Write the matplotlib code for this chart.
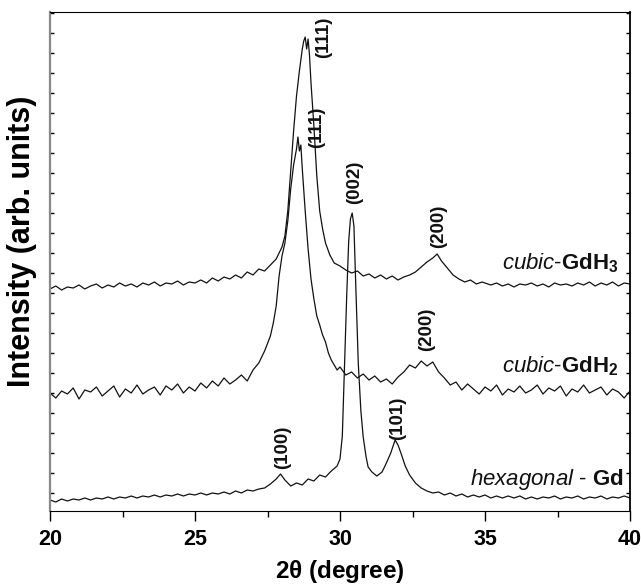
import matplotlib
matplotlib.use("Agg")
import matplotlib.pyplot as plt
import numpy as np

plt.rcParams['font.family'] = ['Liberation Sans', 'DejaVu Sans']
plt.rcParams['mathtext.fontset'] = 'custom'
plt.rcParams['mathtext.rm'] = 'Liberation Sans'
plt.rcParams['mathtext.it'] = 'Liberation Sans:italic'
plt.rcParams['mathtext.bf'] = 'Liberation Sans:bold'

# ---------------- data (2theta in degrees, intensity in arb. units) ----------------
gdh3_x = [20.0, 20.2, 20.4, 20.6, 20.8, 21.0, 21.2, 21.4, 21.6, 21.8, 22.0, 22.2, 22.4, 22.6, 22.8,
          23.0, 23.2, 23.4, 23.6, 23.8, 24.0, 24.2, 24.4, 24.6, 24.8, 25.0, 25.2, 25.4, 25.6, 25.8,
          26.0, 26.2, 26.4, 26.6, 26.8, 27.0, 27.2, 27.4, 27.6, 27.8, 28.0, 28.1, 28.2, 28.3, 28.4,
          28.5, 28.6, 28.7, 28.75, 28.8, 28.85, 28.9, 28.95, 29.0, 29.1, 29.2, 29.3, 29.4, 29.5,
          29.65, 29.8, 30.0, 30.2, 30.4, 30.6, 30.8, 31.0, 31.2, 31.4, 31.6, 31.8, 32.0, 32.2, 32.4,
          32.6, 32.8, 33.0, 33.2, 33.35, 33.5, 33.7, 33.9, 34.1, 34.3, 34.5, 34.7, 34.9, 35.2, 35.4,
          35.6, 35.8, 36.0, 36.2, 36.4, 36.6, 36.8, 37.0, 37.2, 37.4, 37.6, 37.8, 38.0, 38.2, 38.4,
          38.6, 38.8, 39.0, 39.2, 39.4, 39.6, 39.8, 40.0]
gdh3_y = [222, 225, 221, 224, 223, 226, 222, 225, 227, 223, 226, 224, 228, 225, 227,
          224, 228, 226, 229, 225, 228, 227, 230, 226, 229, 228, 231, 228, 233, 230,
          234, 232, 236, 233, 239, 236, 242, 240, 246, 252, 264, 275, 300, 340, 380,
          415, 440, 462, 470, 474, 462, 472, 455, 428, 385, 335, 300, 282, 268,
          256, 248, 245, 241, 238, 240, 235, 237, 233, 236, 232, 235, 231, 234, 236,
          239, 244, 249, 253, 257, 250, 243, 236, 232, 229, 231, 227, 229, 226, 228,
          225, 227, 224, 227, 226, 228, 225, 227, 224, 228, 226, 227, 225, 228, 226,
          229, 225, 228, 226, 229, 225, 228, 227]

gdh2_x = [20.0, 20.2, 20.4, 20.6, 20.8, 21.0, 21.2, 21.4, 21.6, 21.8, 22.0, 22.2, 22.4, 22.6, 22.8,
          23.0, 23.2, 23.4, 23.6, 23.8, 24.0, 24.2, 24.4, 24.6, 24.8, 25.0, 25.2, 25.4, 25.6, 25.8,
          26.0, 26.2, 26.4, 26.6, 26.8, 27.0, 27.2, 27.4, 27.6, 27.7, 27.8, 27.9, 28.0, 28.1, 28.2,
          28.3, 28.4, 28.5, 28.55, 28.6, 28.65, 28.7, 28.8, 28.9, 29.0, 29.1, 29.2, 29.3, 29.4,
          29.5, 29.6, 29.7, 29.8, 29.9, 30.0, 30.2, 30.4, 30.6, 30.8, 31.0, 31.2, 31.4, 31.6, 31.8,
          32.0, 32.2, 32.4, 32.6, 32.8, 33.0, 33.2, 33.4, 33.6, 33.8, 34.0, 34.2, 34.4, 34.6, 34.8,
          35.0, 35.2, 35.4, 35.6, 35.8, 36.0, 36.2, 36.4, 36.6, 36.8, 37.0, 37.2, 37.4, 37.6, 37.8,
          38.0, 38.2, 38.4, 38.6, 38.8, 39.0, 39.2, 39.4, 39.6, 39.8, 40.0]
gdh2_y = [118, 113, 120, 117, 123, 112, 121, 119, 124, 115, 120, 125, 114, 122, 118,
          126, 117, 121, 124, 116, 125, 121, 127, 118, 124, 120, 128, 123, 130, 125,
          133, 127, 131, 136, 130, 141, 148, 160, 175, 188, 205, 235, 255, 268, 290,
          322, 346, 362, 374, 360, 366, 342, 300, 262, 232, 212, 195, 186, 176,
          169, 158, 151, 146, 141, 144, 136, 139, 133, 137, 131, 135, 129, 132, 127,
          134, 139, 146, 143, 150, 145, 149, 139, 133, 126, 129, 121, 127, 122, 117,
          124, 120, 126, 116, 122, 119, 125, 118, 121, 126, 117, 123, 120, 125, 115,
          122, 119, 126, 118, 121, 124, 116, 122, 119, 113, 120]

gd_x = [20.0, 20.2, 20.4, 20.6, 20.8, 21.0, 21.2, 21.4, 21.6, 21.8, 22.0, 22.2, 22.4, 22.6, 22.8,
        23.0, 23.2, 23.4, 23.6, 23.8, 24.0, 24.2, 24.4, 24.6, 24.8, 25.0, 25.2, 25.4, 25.6, 25.8,
        26.0, 26.2, 26.4, 26.6, 26.8, 27.0, 27.2, 27.4, 27.6, 27.8, 27.95, 28.1, 28.3, 28.5, 28.7,
        28.9, 29.1, 29.3, 29.5, 29.7, 29.9, 30.0, 30.08, 30.15, 30.23, 30.3, 30.36, 30.42, 30.48,
        30.55, 30.63, 30.72, 30.8, 30.9, 30.97, 31.1, 31.27, 31.45, 31.6, 31.75, 31.9, 32.0, 32.1,
        32.25, 32.4, 32.6, 32.8, 33.0, 33.2, 33.4, 33.6, 33.8, 34.0, 34.2, 34.4, 34.6, 34.8, 35.0,
        35.2, 35.4, 35.6, 35.8, 36.0, 36.2, 36.4, 36.6, 36.8, 37.0, 37.2, 37.4, 37.6, 37.8, 38.0,
        38.2, 38.4, 38.6, 38.8, 39.0, 39.2, 39.4, 39.6, 39.8, 40.0]
gd_y = [11, 9, 12, 10, 12, 11, 13, 11, 13, 12, 14, 12, 14, 13, 15,
        13, 15, 14, 16, 14, 16, 15, 17, 15, 17, 16, 18, 16, 18, 17,
        19, 17, 20, 18, 21, 20, 22, 23, 27, 32, 37, 31, 25, 28, 26,
        32, 30, 36, 34, 40, 45, 52, 75, 140, 214, 270, 292, 298, 285,
        220, 148, 100, 74, 54, 44, 39, 35, 39, 48, 58, 71, 66, 58,
        45, 36, 28, 23, 20, 18, 19, 16, 18, 15, 17, 14, 16, 14, 16,
        13, 15, 13, 15, 13, 15, 12, 14, 12, 14, 13, 15, 12, 14, 13,
        15, 12, 14, 13, 15, 12, 14, 13, 15, 13]

# peak labels: text, 2theta position, height position
peak_labels = ["(111)", "(111)", "(002)", "(200)", "(200)", "(101)", "(100)"]
peak_x = [29.42, 29.2, 30.52, 33.41, 33.0, 31.97, 28.03]
peak_y = [474, 384, 329, 285, 182, 93, 64]

sample_labels = [r"$\mathit{cubic}$-$\mathbf{GdH}_\mathbf{3}$",
                 r"$\mathit{cubic}$-$\mathbf{GdH}_\mathbf{2}$",
                 r"$\mathit{hexagonal}$ - $\mathbf{Gd}$"]
sample_x = [39.62, 39.62, 39.8]
sample_y = [242, 139, 26]

x_ticks = [20, 25, 30, 35, 40]

# ---------------- figure ----------------
fig = plt.figure(figsize=(6.41, 5.84), dpi=100)
ax = fig.add_axes([50 / 641, 1 - 511 / 584, 580 / 641, 499 / 584])

for xs, ys in [(gdh3_x, gdh3_y), (gdh2_x, gdh2_y), (gd_x, gd_y)]:
    ax.plot(xs, ys, color='#111111', lw=0.9)

for t, px, py in zip(peak_labels, peak_x, peak_y):
    ax.text(px, py, t, rotation=90, ha='center', va='center', fontsize=13.5,
            fontweight='bold', color='#111111')

for t, sx, sy in zip(sample_labels, sample_x, sample_y):
    ax.text(sx, sy, t, ha='right', va='baseline', fontsize=16, color='#111111')

ax.set_xlim(20, 40)
ax.set_ylim(0, 499)
ax.set_xticks(x_ticks)
ax.set_xticks(np.arange(22.5, 40, 5), minor=True)
ax.set_yticks(np.arange(18, 499, 20))
ax.set_yticklabels([])
ax.tick_params(axis='x', which='major', direction='out', length=7, width=1, pad=6,
               labelsize=15.5)
ax.tick_params(axis='x', which='minor', direction='out', length=4, width=1)
ax.tick_params(axis='y', which='major', direction='in', length=3, width=1,
               left=True, right=True)
for lab in ax.get_xticklabels():
    lab.set_fontweight('bold')

ax.spines['left'].set_color('#888888')
ax.spines['left'].set_linewidth(1.6)
ax.spines['right'].set_linewidth(1.3)

ax.set_xlabel(r"2$\mathregular{\theta}$ (degree)", fontsize=17.5, fontweight='bold')
ax.xaxis.set_label_coords(0.5, -0.094)
ax.set_ylabel("Intensity (arb. units)", fontsize=22, fontweight='bold')
ax.yaxis.set_label_coords(-0.022, 0.54)

fig.savefig("out.png", dpi=100)
